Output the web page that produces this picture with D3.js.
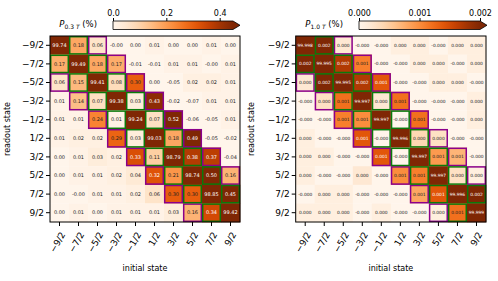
<!DOCTYPE html>
<html>
<head>
<meta charset="utf-8">
<script src="https://cdn.jsdelivr.net/npm/d3@7"></script>
<style>
  body { margin: 0; background: #fff; }
  svg { display: block; font-family: "DejaVu Sans", sans-serif; }
</style>
</head>
<body>
<svg id="chart" width="498" height="281"></svg>
<script>
// state labels, shared by both axes
const states = ["−9/2", "−7/2", "−5/2", "−3/2", "−1/2", "1/2", "3/2", "5/2", "7/2", "9/2"];

// P at 0.3 T (%), rows = readout state, cols = initial state
const p03 = [
  [99.74, 0.18, 0.06, -0.001, 0.00, 0.01, 0.00, 0.00, 0.01, 0.00],
  [0.17, 99.49, 0.18, 0.17, -0.01, -0.01, 0.01, 0.01, -0.001, 0.01],
  [0.06, 0.15, 99.41, 0.08, 0.30, 0.00, -0.05, 0.02, 0.02, 0.01],
  [0.01, 0.14, 0.07, 99.38, 0.03, 0.43, -0.02, -0.07, 0.01, 0.01],
  [0.01, 0.01, 0.24, 0.01, 99.24, 0.07, 0.52, -0.06, -0.05, 0.01],
  [0.01, 0.02, 0.02, 0.29, 0.03, 99.03, 0.18, 0.49, -0.05, -0.02],
  [0.00, 0.01, 0.03, 0.02, 0.33, 0.11, 98.79, 0.38, 0.37, -0.04],
  [0.00, 0.01, 0.01, 0.02, 0.04, 0.32, 0.21, 98.74, 0.50, 0.16],
  [0.00, -0.001, 0.01, 0.01, 0.02, 0.06, 0.30, 0.30, 98.85, 0.45],
  [0.00, 0.01, 0.00, 0.01, 0.01, 0.01, 0.03, 0.16, 0.34, 99.42]
];

// P at 1.0 T (%), printed with 3 decimals
const p10 = [
  [99.998, 0.0020, 0.0002, -0.0001, -0.0001, 0.0001, 0.0001, -0.0001, 0.0001, 0.0001],
  [0.0020, 99.995, 0.0017, 0.0011, -0.0001, -0.0001, 0.0001, 0.0001, -0.0001, 0.0001],
  [0.0002, 0.0020, 99.995, 0.0017, 0.0014, -0.0001, -0.0001, 0.0001, 0.0001, -0.0001],
  [-0.0001, 0.0003, 0.0012, 99.997, 0.0002, 0.0012, -0.0001, -0.0001, -0.0001, 0.0001],
  [-0.0001, -0.0001, 0.0011, 0.0010, 99.997, -0.0001, 0.0012, -0.0001, -0.0001, 0.0001],
  [0.0001, -0.0001, -0.0001, 0.0014, -0.0001, 99.996, 0.0004, 0.0003, -0.0001, -0.0001],
  [0.0001, 0.0001, -0.0001, -0.0001, 0.0014, -0.0001, 99.997, 0.0009, 0.0007, -0.0001],
  [0.0001, -0.0001, -0.0001, 0.0002, -0.0001, 0.0010, 0.0011, 99.997, 0.0003, 0.0001],
  [-0.0001, 0.0001, 0.0001, -0.0001, -0.0001, -0.0001, 0.0008, 0.0014, 99.996, 0.0020],
  [0.0001, 0.0001, 0.0001, -0.0001, 0.0001, -0.0001, -0.0001, 0.0001, 0.0012, 99.999]
];

const ticks03 = [0, 0.2, 0.4];
const ticks10 = [0, 0.001, 0.002];

const svg = d3.select("#chart");

const TOP = 36, BOTTOM = 222;

function drawPanel(opt) {
  const g = svg.append("g");
  const x = d3.scaleBand().domain(d3.range(10)).range([opt.x0, opt.x1]);
  const y = d3.scaleBand().domain(d3.range(10)).range([TOP, BOTTOM]);
  const color = d3.scaleSequential(d3.interpolateOranges).domain([0, opt.vmax]).clamp(true);

  const cells = [];
  opt.data.forEach((row, r) => row.forEach((v, c) => cells.push({ r, c, v })));

  // 色块
  g.selectAll("rect.cell")
    .data(cells)
    .join("rect")
    .attr("class", "cell")
    .attr("x", d => x(d.c))
    .attr("y", d => y(d.r))
    .attr("width", x.bandwidth() + 0.3)
    .attr("height", y.bandwidth() + 0.3)
    .attr("fill", d => color(d.v));

  // 邻近能级的框：先画紫色（差2），再画绿色（差1）
  [[2, "#8b008b"], [1, "#0a7a0a"]].forEach(([k, col]) => {
    g.selectAll(null)
      .data(cells.filter(d => Math.abs(d.r - d.c) === k))
      .join("rect")
      .attr("x", d => x(d.c) + 0.7)
      .attr("y", d => y(d.r) + 0.7)
      .attr("width", x.bandwidth() - 1.4)
      .attr("height", y.bandwidth() - 1.4)
      .attr("fill", "none")
      .attr("stroke", col)
      .attr("stroke-width", 1.5);
  });

  // 数值
  g.selectAll("text.val")
    .data(cells)
    .join("text")
    .attr("class", "val")
    .attr("x", d => x(d.c) + x.bandwidth() / 2)
    .attr("y", d => y(d.r) + y.bandwidth() / 2)
    .attr("dy", "0.35em")
    .attr("text-anchor", "middle")
    .attr("font-size", opt.valSize)
    .attr("fill", d => (d.v > opt.whiteAbove ? "#fff" : "#222"))
    .text(d => d.v.toFixed(opt.digits));

  // 外框
  g.append("rect")
    .attr("x", opt.x0)
    .attr("y", TOP)
    .attr("width", opt.x1 - opt.x0)
    .attr("height", BOTTOM - TOP)
    .attr("fill", "none")
    .attr("stroke", "#000")
    .attr("stroke-width", 1);

  // y 轴
  const yAxis = g.append("g")
    .attr("transform", `translate(${opt.x0},0)`)
    .call(d3.axisLeft(y).tickFormat(i => states[i]).tickSize(4).tickPadding(2));
  yAxis.select(".domain").remove();
  yAxis.selectAll("text").attr("font-size", 9).attr("font-family", "DejaVu Sans").attr("fill", "#000");

  // x 轴
  const xAxis = g.append("g")
    .attr("transform", `translate(0,${BOTTOM})`)
    .call(d3.axisBottom(x).tickFormat(i => states[i]).tickSize(4));
  xAxis.select(".domain").remove();
  xAxis.selectAll("text")
    .attr("font-size", 9)
    .attr("font-family", "DejaVu Sans")
    .attr("fill", "#000")
    .attr("text-anchor", "end")
    .attr("dy", null)
    .attr("y", null)
    .attr("transform", "translate(4,11) rotate(-60)")
    .attr("dominant-baseline", "middle");

  g.append("text")
    .attr("x", (opt.x0 + opt.x1) / 2)
    .attr("y", 271)
    .attr("text-anchor", "middle")
    .attr("font-size", 8)
    .text("initial state");

  g.append("text")
    .attr("transform", `translate(${opt.ylabX},${(TOP + BOTTOM) / 2}) rotate(-90)`)
    .attr("text-anchor", "middle")
    .attr("font-size", 8)
    .text("readout state");

  // 色条
  const cb = svg.append("g");
  const cx = d3.scaleLinear().domain([0, opt.vmax]).range([opt.cb0, opt.cb1]);
  const gradId = "grad" + opt.id;
  const grad = svg.append("defs").append("linearGradient").attr("id", gradId);
  d3.range(0, 1.0001, 0.1).forEach(t => {
    grad.append("stop").attr("offset", t).attr("stop-color", d3.interpolateOranges(t));
  });
  const cy0 = 21, cy1 = 29.5, tip = opt.cb1 + 7;
  cb.append("rect")
    .attr("x", opt.cb0).attr("y", cy0)
    .attr("width", opt.cb1 - opt.cb0).attr("height", cy1 - cy0)
    .attr("fill", `url(#${gradId})`);
  cb.append("path")
    .attr("d", `M${opt.cb1},${cy0}L${tip},${(cy0 + cy1) / 2}L${opt.cb1},${cy1}Z`)
    .attr("fill", d3.interpolateOranges(1));
  cb.append("path")
    .attr("d", `M${opt.cb0},${cy0}H${opt.cb1}L${tip},${(cy0 + cy1) / 2}L${opt.cb1},${cy1}H${opt.cb0}Z`)
    .attr("fill", "none")
    .attr("stroke", "#000")
    .attr("stroke-width", 0.8);
  const cAxis = cb.append("g")
    .attr("transform", `translate(0,${cy0})`)
    .call(d3.axisTop(cx).tickValues(opt.ticks).tickFormat(d3.format(opt.tickFmt)).tickSize(3).tickPadding(2));
  cAxis.select(".domain").remove();
  cAxis.selectAll("text").attr("font-size", 8).attr("font-family", "DejaVu Sans").attr("fill", "#000");

  const lab = cb.append("text")
    .attr("x", opt.cb0 - 16)
    .attr("y", 27)
    .attr("text-anchor", "end")
    .attr("font-size", 8.5);
  lab.append("tspan").attr("font-style", "italic").text("P");
  lab.append("tspan").attr("font-size", 6).attr("dy", 2).text(opt.sub.split(" ")[0] + " ");
  lab.append("tspan").attr("font-size", 6).attr("font-style", "italic").text("T");
  lab.append("tspan").attr("dy", -2).text(" (%)");
}

drawPanel({
  id: "a", data: p03, vmax: 0.45, digits: 2, valSize: 5, whiteAbove: 0.3,
  x0: 50, x1: 240, ylabX: 10,
  cb0: 113, cb1: 233, ticks: ticks03, tickFmt: ".1f", sub: "0.3 T"
});

drawPanel({
  id: "b", data: p10, vmax: 0.002, digits: 3, valSize: 4.4, whiteAbove: 0.0013,
  x0: 295.7, x1: 486, ylabX: 254,
  cb0: 359, cb1: 480, ticks: ticks10, tickFmt: ".3f", sub: "1.0 T"
});
</script>
</body>
</html>
